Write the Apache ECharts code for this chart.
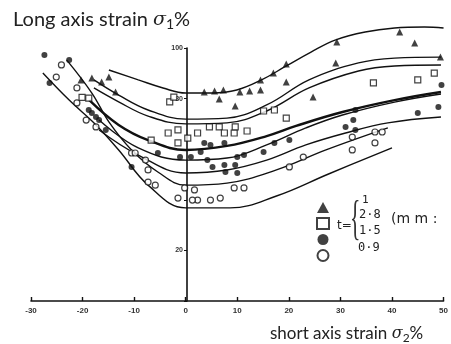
<!DOCTYPE html>
<html>
<head>
<meta charset="utf-8">
<script src="https://cdn.jsdelivr.net/npm/echarts@6/dist/echarts.min.js"></script>
<style>
html,body{margin:0;padding:0;background:#fff;}
#chart-area{width:451px;height:344px;}
</style>
</head>
<body>
<div id="chart-area"></div>
<script>
// x ticks and y labels shown in the figure
var xTicks = [-30, -20, -10, 0, 10, 20, 30, 40, 50];
var yShown = [20, 80, 100];

// limit curves [short axis strain, long axis strain]
var curveA = [[-14.9,91.3],[-9.2,87.4],[-4.4,84.2],[0,82.2],[5.2,82.2],[9.9,83.4],[14.7,87.4],[19.5,92.9],[24.3,98.4],[29.1,103.2],[34.8,106.3],[40.5,107.9],[46.3,108.3],[50,107.9]];
var curveB = [[-17.8,87.4],[-13,81.4],[-7.3,75.5],[0,71.9],[8,72.3],[15.7,77.5],[23.9,87.4],[33.5,94.1],[40.5,96],[49.5,96.4]];
var curveC = [[-17.8,84.2],[-13,78.7],[-7.3,73.1],[0,70],[8,70.4],[15.7,75.1],[23.9,84.2],[33.5,90.9],[40.5,92.9],[49.5,93.3]];
var curveD = [[-18.7,79.4],[-13,69.6],[-7.3,63.6],[0,59.7],[8,61.3],[15.7,65.2],[21.4,69.2],[30.4,74.7],[40.5,79.4],[49.5,82.6]];
var curveD2 = [[-16.8,71.5],[-9.2,60.5],[0,55.7],[8,56.5],[15.7,61.7],[23.3,68.4],[30.4,73.5],[40.5,78.6],[49.5,81.8]];
var curveE = [[-16.8,67.6],[-9.2,57.7],[0,50.6],[8,51.8],[15.7,55.7],[23.3,61.7],[31,66.4],[39.2,70.4],[49.5,72.7]];
var curveF = [[-23.1,95.3],[-18.2,82.2],[-14.9,70.8],[-10.5,59.7],[-5.4,51],[0,45.8],[8,46.6],[17.6,51.8],[27.2,59.7],[39.2,68.4]];
var curveG = [[-27.7,90.1],[-22.6,79.4],[-17.4,69.6],[-13,59.7],[-7.3,45.8],[0,36.8],[8.6,36.8],[17.6,41.5],[27.7,50.2],[40,60.5]];

// measured points, by sheet thickness
var tri = [[41.5,106.3],[44.4,102],[29.3,102.4],[29.1,94.1],[19.5,93.7],[17,90.1],[14.5,87.4],[19.5,86.6],[14.5,83.4],[12.4,83],[10.5,82.6],[6.5,79.8],[9.6,77.1],[24.7,80.6],[3.6,82.6],[5.6,83],[7.3,83.4],[49.4,96.4],[-18.2,88.1],[-16.3,86.6],[-14.9,88.5],[-13.6,82.6],[-20.3,87.4]];
var sq = [[-3.4,66.4],[-1.5,67.6],[0.4,64.4],[-1.5,62.5],[2.3,66.4],[4.6,68.8],[6.5,68.8],[7.5,66.4],[9.4,66.4],[9.6,68.8],[11.9,67.2],[15.1,75.1],[17.2,75.5],[19.5,72.3],[-6.7,63.6],[-3.1,78.7],[-2.3,80.6],[36.4,86.2],[45,87.4],[48.2,90.1],[-20.1,80.5],[-18.8,80.2]];
var dot = [[-1.1,56.9],[1,56.9],[3.6,62.5],[4.8,61.7],[7.5,62.5],[2.9,58.9],[4.2,55.7],[7.5,53.8],[9.6,53.8],[10,56.9],[11.3,57.7],[7.7,51],[10,50.6],[5.2,53],[-5.4,58.5],[15.1,58.9],[17.2,62.5],[20.1,63.6],[32.9,75.5],[32.5,71.5],[31,68.8],[32.9,67.6],[45,74.3],[49,76.7],[49.6,85.4],[-27.4,97.2],[-26.4,86.2],[-22.6,95.3],[-18.8,75.5],[-18.2,74.3],[-16.8,71.5],[-15.5,67.6],[-17.4,72.7],[-10.5,53]];
var ring = [[-0.2,44.7],[1.7,43.9],[2.3,39.9],[4.8,39.9],[6.7,40.7],[9.4,44.7],[11.3,44.7],[20.1,53],[22.8,56.9],[32.3,59.7],[36.7,62.5],[32.3,64.8],[36.7,66.8],[38.1,66.8],[-7.3,47],[-5.9,45.8],[1.3,39.9],[-1.5,40.7],[-10.5,58.5],[-7.3,51.8],[-24.1,93.3],[-25.1,88.5],[-21.1,84.2],[-21.1,78.3],[-19.3,71.5],[-17.4,68.8],[-9.8,58.5],[-7.8,55.7]];

var myChart = echarts.init(document.getElementById('chart-area'));

function curve(data, w){
	return {
		type:'line',
		data:data,
		smooth:0.4,
		showSymbol:false,
		clip:false,
		silent:true,
		z:2,
		lineStyle:{color:'#111', width:w || 1.4}
	};
}
function points(name, data, symbol, size, hollow){
	return {
		name:name,
		type:'scatter',
		data:data,
		symbol:symbol,
		symbolSize:size,
		clip:false,
		z:3,
		itemStyle: hollow ? {color:'#fff', borderColor:'#111', borderWidth:1.2} : {color:'#111'}
	};
}

option = {
	animation:false,
	title:[
		{
			text:'Long axis strain {i|σ}{s|1}%',
			left:8, top:4,
			textStyle:{
				fontFamily:'Lato', fontSize:20, fontWeight:'normal', color:'#222',
				rich:{
					i:{fontFamily:'DejaVu Serif', fontStyle:'italic', fontSize:19, color:'#222'},
					s:{fontFamily:'Lato', fontSize:14, color:'#222', padding:[8,0,0,0]}
				}
			}
		},
		{
			text:'short axis strain {i|σ}{s|2}%',
			left:265, top:319,
			textStyle:{
				fontFamily:'Lato', fontSize:17, fontWeight:'normal', color:'#222',
				rich:{
					i:{fontFamily:'DejaVu Serif', fontStyle:'italic', fontSize:16, color:'#222'},
					s:{fontFamily:'Lato', fontSize:12, color:'#222', padding:[8,0,0,0]}
				}
			}
		}
	],
	legend:{
		orient:'vertical',
		left:311, top:197,
		itemWidth:12, itemHeight:11, itemGap:4,
		formatter:function(){ return ''; },
		data:['t=1','t=2.8','t=1.5','t=0.9']
	},
	grid:{left:31, right:4, top:48, bottom:43},
	xAxis:{
		type:'value',
		min:xTicks[0], max:xTicks[xTicks.length-1], interval:10,
		axisLine:{lineStyle:{color:'#111', width:1.6}},
		axisTick:{inside:true, length:4, lineStyle:{color:'#111', width:1.4}},
		axisLabel:{fontSize:8, fontWeight:'bold', color:'#333', margin:6},
		splitLine:{show:false}
	},
	yAxis:{
		type:'value',
		min:0, max:100, interval:20,
		offset:-156,
		axisLine:{show:true, onZero:false, lineStyle:{color:'#111', width:1.6}},
		axisTick:{show:true, length:3, lineStyle:{color:'#111'}},
		axisLabel:{
			fontSize:7, fontWeight:'bold', color:'#333', margin:4,
			formatter:function(v){ return yShown.indexOf(v) != -1 ? v : ''; }
		},
		splitLine:{show:false}
	},
	graphic:[
		{type:'text', left:337, top:220, style:{text:'t=', fontSize:12, fill:'#222', fontFamily:'DejaVu Sans'}},
		{type:'text', x:350, y:197, scaleX:0.45, style:{text:'{', fontSize:48, fill:'#333', fontFamily:'Liberation Serif'}},
		{type:'text', left:362, top:195, style:{text:'1', fontSize:11, fill:'#222', fontFamily:'DejaVu Sans Mono'}},
		{type:'text', left:359, top:209, style:{text:'2·8', fontSize:12, fill:'#222', fontFamily:'DejaVu Sans Mono'}},
		{type:'text', left:391, top:212, style:{text:'(m m :', fontSize:14, fill:'#222', fontFamily:'DejaVu Sans'}},
		{type:'text', left:359, top:225, style:{text:'1·5', fontSize:12, fill:'#222', fontFamily:'DejaVu Sans Mono'}},
		{type:'text', left:358, top:242, style:{text:'0·9', fontSize:12, fill:'#222', fontFamily:'DejaVu Sans Mono'}}
	],
	series:[
		curve(curveA), curve(curveB), curve(curveC),
		curve(curveD, 2.4), curve(curveD2), curve(curveE),
		curve(curveF), curve(curveG),
		points('t=1', tri, 'triangle', 7, false),
		points('t=2.8', sq, 'rect', 6, true),
		points('t=1.5', dot, 'circle', 6, false),
		points('t=0.9', ring, 'circle', 6, true)
	]
};
myChart.setOption(option);
</script>
</body>
</html>
